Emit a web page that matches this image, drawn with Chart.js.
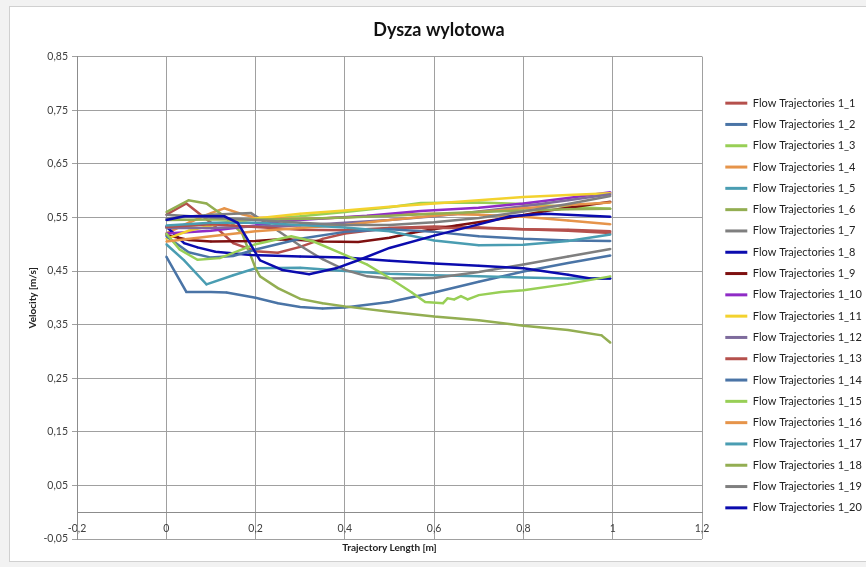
<!DOCTYPE html>
<html><head><meta charset="utf-8">
<script src="https://cdn.jsdelivr.net/npm/chart.js@4.4.1/dist/chart.umd.min.js"></script>
<style>html,body{margin:0;padding:0;background:#fff;}canvas{display:block;}</style>
</head><body>
<canvas id="c" width="866" height="567"></canvas>
<script>
const chartTitle = 'Dysza wylotowa';
const xTitle = 'Trajectory Length [m]';
const yTitle = 'Velocity [m/s]';
const xTicks = [-0.2, 0, 0.2, 0.4, 0.6, 0.8, 1, 1.2];
const yTicks = [-0.05, 0.05, 0.15, 0.25, 0.35, 0.45, 0.55, 0.65, 0.75, 0.85];
const seriesNames = ['Flow Trajectories 1_1','Flow Trajectories 1_2','Flow Trajectories 1_3','Flow Trajectories 1_4','Flow Trajectories 1_5','Flow Trajectories 1_6','Flow Trajectories 1_7','Flow Trajectories 1_8','Flow Trajectories 1_9','Flow Trajectories 1_10','Flow Trajectories 1_11','Flow Trajectories 1_12','Flow Trajectories 1_13','Flow Trajectories 1_14','Flow Trajectories 1_15','Flow Trajectories 1_16','Flow Trajectories 1_17','Flow Trajectories 1_18','Flow Trajectories 1_19','Flow Trajectories 1_20'];

// [trajectory length, velocity] pairs
const ft1_1 = [[0,0.555],[0.045,0.576],[0.1,0.54],[0.15,0.502],[0.2,0.487],[0.25,0.484],[0.3,0.495],[0.35,0.51],[0.4,0.52],[0.5,0.53],[0.6,0.533],[0.7,0.531],[0.8,0.528],[0.9,0.525],[0.995,0.521]];
const ft1_2 = [[0,0.477],[0.045,0.411],[0.1,0.411],[0.135,0.41],[0.2,0.4],[0.25,0.39],[0.3,0.383],[0.35,0.38],[0.4,0.382],[0.5,0.392],[0.6,0.41],[0.7,0.43],[0.8,0.449],[0.9,0.465],[0.995,0.479]];
const ft1_3 = [[0,0.53],[0.1,0.538],[0.2,0.546],[0.3,0.552],[0.4,0.56],[0.5,0.569],[0.57,0.577],[0.7,0.578],[0.8,0.575],[0.9,0.57],[0.995,0.566]];
const ft1_4 = [[0,0.52],[0.05,0.54],[0.1,0.558],[0.13,0.567],[0.17,0.556],[0.2,0.55],[0.3,0.547],[0.4,0.55],[0.5,0.555],[0.6,0.557],[0.7,0.555],[0.8,0.551],[0.9,0.544],[0.995,0.537]];
const ft1_5 = [[0,0.5],[0.04,0.47],[0.09,0.425],[0.15,0.442],[0.2,0.455],[0.3,0.456],[0.4,0.45],[0.5,0.445],[0.6,0.442],[0.7,0.44],[0.8,0.438],[0.9,0.436],[0.995,0.436]];
const ft1_6 = [[0,0.56],[0.05,0.582],[0.09,0.576],[0.13,0.552],[0.17,0.52],[0.2,0.455],[0.21,0.44],[0.25,0.418],[0.3,0.398],[0.35,0.39],[0.4,0.384],[0.5,0.374],[0.6,0.365],[0.7,0.358],[0.8,0.348],[0.9,0.34],[0.975,0.33],[0.995,0.316]];
const ft1_7 = [[0,0.548],[0.1,0.555],[0.19,0.558],[0.25,0.525],[0.3,0.497],[0.35,0.472],[0.4,0.452],[0.45,0.44],[0.5,0.436],[0.6,0.437],[0.7,0.448],[0.8,0.462],[0.9,0.477],[0.995,0.491]];
const ft1_8 = [[0,0.533],[0.04,0.502],[0.07,0.494],[0.11,0.486],[0.19,0.48],[0.3,0.477],[0.4,0.475],[0.5,0.469],[0.6,0.464],[0.7,0.46],[0.8,0.455],[0.9,0.443],[0.95,0.436],[0.995,0.436]];
const ft1_9 = [[0,0.517],[0.05,0.508],[0.1,0.505],[0.2,0.506],[0.256,0.509],[0.3,0.508],[0.35,0.505],[0.43,0.504],[0.5,0.512],[0.555,0.522],[0.65,0.535],[0.77,0.55],[0.85,0.562],[0.995,0.579]];
const ft1_10 = [[0,0.52],[0.1,0.525],[0.2,0.535],[0.256,0.543],[0.35,0.548],[0.45,0.553],[0.57,0.562],[0.7,0.568],[0.8,0.576],[0.9,0.586],[0.995,0.597]];
const ft1_11 = [[0,0.51],[0.05,0.525],[0.1,0.535],[0.2,0.548],[0.3,0.557],[0.4,0.563],[0.5,0.57],[0.6,0.576],[0.7,0.582],[0.8,0.588],[0.9,0.592],[0.995,0.595]];
const ft1_12 = [[0,0.53],[0.1,0.53],[0.2,0.533],[0.3,0.535],[0.4,0.54],[0.5,0.545],[0.6,0.552],[0.7,0.561],[0.8,0.571],[0.9,0.582],[0.995,0.593]];
const ft1_13 = [[0,0.532],[0.1,0.537],[0.2,0.532],[0.3,0.527],[0.4,0.526],[0.5,0.53],[0.6,0.53],[0.7,0.53],[0.8,0.528],[0.9,0.527],[0.995,0.524]];
const ft1_14 = [[0,0.515],[0.05,0.485],[0.1,0.475],[0.15,0.478],[0.2,0.49],[0.3,0.51],[0.4,0.523],[0.5,0.528],[0.6,0.523],[0.7,0.515],[0.8,0.51],[0.9,0.507],[0.995,0.506]];
const ft1_15 = [[0,0.52],[0.03,0.49],[0.07,0.471],[0.12,0.474],[0.2,0.5],[0.28,0.515],[0.33,0.505],[0.4,0.48],[0.45,0.462],[0.5,0.437],[0.55,0.41],[0.58,0.392],[0.62,0.39],[0.63,0.399],[0.645,0.397],[0.66,0.403],[0.675,0.397],[0.7,0.405],[0.75,0.411],[0.8,0.414],[0.9,0.426],[0.995,0.44]];
const ft1_16 = [[0,0.505],[0.1,0.515],[0.2,0.524],[0.3,0.53],[0.4,0.536],[0.5,0.545],[0.6,0.553],[0.7,0.56],[0.8,0.567],[0.9,0.573],[0.995,0.578]];
const ft1_17 = [[0,0.535],[0.1,0.54],[0.2,0.54],[0.3,0.536],[0.4,0.531],[0.5,0.524],[0.6,0.507],[0.7,0.498],[0.8,0.499],[0.9,0.506],[0.995,0.518]];
const ft1_18 = [[0,0.545],[0.1,0.546],[0.2,0.546],[0.3,0.547],[0.4,0.55],[0.5,0.553],[0.6,0.557],[0.7,0.56],[0.8,0.563],[0.9,0.565],[0.995,0.566]];
const ft1_19 = [[0,0.555],[0.1,0.55],[0.2,0.545],[0.3,0.54],[0.4,0.536],[0.5,0.536],[0.6,0.541],[0.7,0.549],[0.8,0.561],[0.9,0.575],[0.995,0.59]];
const ft1_20 = [[0,0.545],[0.04,0.552],[0.13,0.552],[0.16,0.54],[0.21,0.47],[0.26,0.452],[0.32,0.444],[0.38,0.455],[0.43,0.47],[0.5,0.493],[0.6,0.516],[0.7,0.537],[0.77,0.552],[0.85,0.557],[0.995,0.551]];

const seriesData = [ft1_1,ft1_2,ft1_3,ft1_4,ft1_5,ft1_6,ft1_7,ft1_8,ft1_9,ft1_10,ft1_11,ft1_12,ft1_13,ft1_14,ft1_15,ft1_16,ft1_17,ft1_18,ft1_19,ft1_20];
const palette = ['#B5504C','#4A74A6','#98CF56','#E6944A','#4A9DB2','#93AE52','#7F7F7F','#0B0BAE','#7E1010','#8F2BC6','#F3D22E','#7E6B9C'];

const fmt = v => (Math.round(v*100)/100).toString().replace('.', ',');

const frame = {
  id: 'frame',
  beforeDraw(chart) {
    const ctx = chart.ctx;
    ctx.save();
    ctx.fillStyle = '#f2f2f2';
    ctx.fillRect(0, 0, chart.width, chart.height);
    ctx.fillStyle = '#ffffff';
    ctx.fillRect(10, 7, chart.width, 555);
    ctx.strokeStyle = '#d0d0d0';
    ctx.lineWidth = 1;
    ctx.strokeRect(9.5, 6.5, chart.width + 10, 555);
    ctx.restore();
  },
  afterLayout(chart) {
    const L = chart.legend;
    const w = L.width;
    L.left = 715; L.right = 715 + w;
    L.top = 22; L.bottom = 589; L.height = 567;
    const T = chart.titleBlock;
    T.left += 8; T.right += 8;
  }
};

const datasets = seriesData.map((s, i) => ({
  label: seriesNames[i],
  data: s.map(p => ({x: p[0], y: p[1]})),
  borderColor: palette[i % palette.length],
  backgroundColor: palette[i % palette.length],
  borderWidth: 2.5,
  pointRadius: 1,
  pointBorderWidth: 0,
  pointHoverRadius: 1,
  tension: 0,
  fill: false,
  order: seriesData.length - i
}));

new Chart(document.getElementById('c'), {
  type: 'scatter',
  data: { datasets },
  plugins: [frame],
  options: {
    responsive: false,
    animation: false,
    devicePixelRatio: 1,
    showLine: true,
    layout: { padding: { left: 10, right: 14, top: 8, bottom: 8 } },
    scales: {
      x: {
        type: 'linear',
        position: { y: 0 },
        min: -0.2, max: 1.2,
        afterFit: s => { s.height = 0; },
        afterBuildTicks: s => { s.ticks = xTicks.map(v => ({value: v})); },
        ticks: { callback: v => fmt(v), autoSkip: false, maxRotation: 0, padding: 5, color: '#404040', font: { family: 'Lato', size: 10.5 } },
        grid: { color: '#a0a0a0', lineWidth: 1, tickLength: 5 },
        border: { display: true, color: '#8c8c8c', width: 1 }
      },
      y: {
        type: 'linear',
        position: 'left',
        min: -0.05, max: 0.85,
        afterFit: s => { s.width = 67; },
        afterBuildTicks: s => { s.ticks = yTicks.map(v => ({value: v})); },
        ticks: { callback: v => fmt(v), autoSkip: false, padding: 4, color: '#404040', font: { family: 'Lato', size: 10.5 } },
        grid: { color: '#a0a0a0', lineWidth: 1, tickLength: 5 },
        border: { display: true, color: '#8c8c8c', width: 1 },
        title: { display: true, text: yTitle, color: '#222', font: { family: 'Lato', size: 10, weight: 'bold' }, padding: { top: 17, bottom: 0 } }
      }
    },
    plugins: {
      title: { display: true, text: chartTitle, color: '#111', font: { family: 'Lato', size: 18, weight: 'bold' }, padding: { top: 11, bottom: 16 } },
      subtitle: { display: true, position: 'bottom', fullSize: false, text: xTitle, color: '#222', font: { family: 'Lato', size: 10, weight: 'bold' }, padding: { top: 3, bottom: 5 } },
      legend: {
        position: 'right',
        maxWidth: 150,
        labels: {
          boxWidth: 22, boxHeight: 3, padding: 10.3, color: '#222',
          font: { family: 'Lato', size: 11 },
          sort: (a, b) => a.datasetIndex - b.datasetIndex,
          generateLabels: chart => Chart.defaults.plugins.legend.labels.generateLabels(chart).map(l => Object.assign(l, { lineWidth: 0 }))
        }
      },
      tooltip: { enabled: false }
    }
  }
});
</script>
</body></html>
